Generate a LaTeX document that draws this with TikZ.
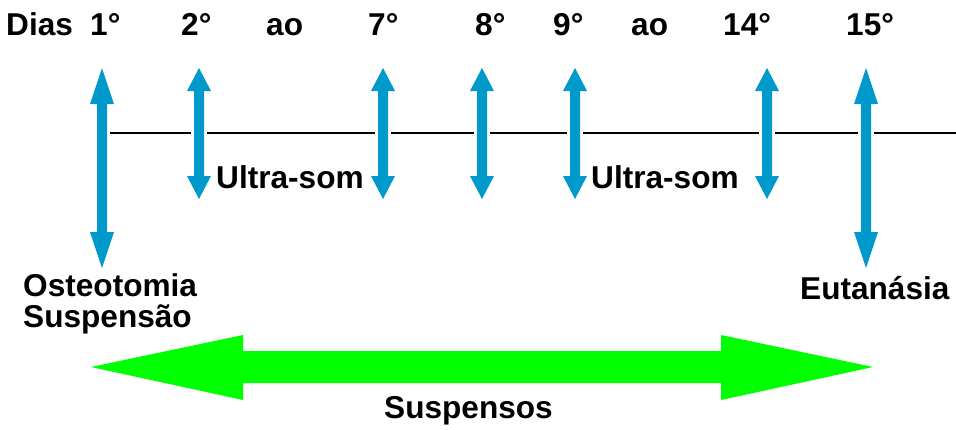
\documentclass[tikz,border=0pt]{standalone}
\usepackage{fontspec}
\setmainfont{Liberation Sans}
\definecolor{arrowblue}{RGB}{0,153,204}
\definecolor{brightgreen}{RGB}{0,255,0}
\tikzset{
  lbl/.style={anchor=base west,inner sep=0pt,font=\fontsize{31.6}{36}\selectfont\bfseries},
  bluehalo/.style={draw=white,line width=6pt,line join=miter},
  bluearr/.style={fill=arrowblue,draw=none},
  timeline/.style={line width=1.6pt,black},
  greenarr/.style={fill=brightgreen,draw=none}
}
% x, ytop, ybottom, head length
\newcommand\arrowpath[4]{(#1,#2) -- (#1+12,#2+#4) -- (#1+5,#2+#4) -- (#1+5,#3-#4) -- (#1+12,#3-#4)
    -- (#1,#3) -- (#1-12,#3-#4) -- (#1-5,#3-#4) -- (#1-5,#2+#4) -- (#1-12,#2+#4) -- cycle}
\newcommand\vdarrow[4]{%
  \draw[bluehalo] (#1-5,#2+#4) -- (#1+5,#2+#4) -- (#1+5,#3-#4) -- (#1-5,#3-#4) -- cycle;
  \fill[bluearr] \arrowpath{#1}{#2}{#3}{#4};}
\begin{document}
\begin{tikzpicture}[x=1pt,y=-1pt]
\useasboundingbox (0,0) rectangle (956,429);
% timeline
\coordinate (lineL) at (110,133);
\coordinate (lineR) at (956,133);
\draw[timeline] (lineL) -- (lineR);
% blue double arrows
\vdarrow{102}{68}{268}{36}
\vdarrow{199}{68}{199}{23}
\vdarrow{383}{68}{199}{23}
\vdarrow{482}{68}{199}{23}
\vdarrow{575}{68}{199}{23}
\vdarrow{767}{68}{199}{23}
\vdarrow{866}{68}{268}{36}
% green double arrow
\fill[greenarr] (91,367) -- (243,335) -- (243,351) -- (721,351) -- (721,335) -- (873,367)
  -- (721,400) -- (721,383) -- (243,383) -- (243,400) -- cycle;
% labels
\node[lbl] (dias) at (6,35) {Dias};
\node[lbl] (d1) at (90,35) {1°};
\node[lbl] (d2) at (181,35) {2°};
\node[lbl] (ao1) at (266,35) {ao};
\node[lbl] (d7) at (368,35) {7°};
\node[lbl] (d8) at (475,35) {8°};
\node[lbl] (d9) at (553,35) {9°};
\node[lbl] (ao2) at (631,35) {ao};
\node[lbl] (d14) at (723,35) {14°};
\node[lbl] (d15) at (846,35) {15°};
\node[lbl] (us1) at (216,188) {Ultra-som};
\node[lbl] (us2) at (591,188) {Ultra-som};
\node[lbl] (oste) at (23,296) {Osteotomia};
\node[lbl] (susp) at (23,327) {Suspensão};
\node[lbl] (euta) at (800,299) {Eutanásia};
\node[lbl] (susps) at (384,418) {Suspensos};
\end{tikzpicture}
\end{document}
